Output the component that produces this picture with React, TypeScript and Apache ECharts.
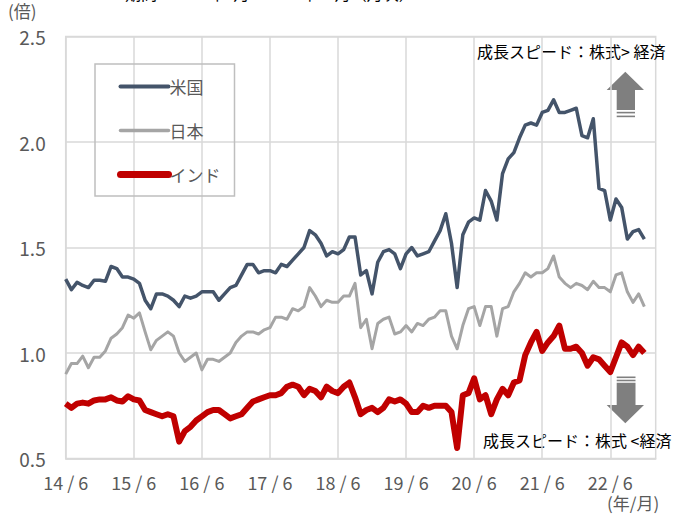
import React, { useEffect, useRef } from "react";
import * as echarts from "echarts";

// Month labels: 2014/6 .. 2023/2 (axis extends two months past the data)
const startYear = 14;
const startMonth = 6;
const monthCount = 105;
const months: string[] = [];
for (let i = 0; i < monthCount; i++) {
  const m = startMonth - 1 + i;
  months.push(`${startYear + Math.floor(m / 12)}/${(m % 12) + 1}`);
}

const seriesNames = ["米国", "日本", "インド"];

const usValues = [
  1.35, 1.30, 1.335, 1.32, 1.31, 1.345, 1.345, 1.34, 1.41, 1.40, 1.36, 1.36, 1.35, 1.33, 1.25, 1.21, 1.28,
  1.28, 1.27, 1.25, 1.22, 1.27, 1.26, 1.27, 1.29, 1.29, 1.29, 1.25, 1.28, 1.31, 1.32, 1.37, 1.42, 1.42, 1.38,
  1.39, 1.39, 1.38, 1.42, 1.41, 1.44, 1.47,
  1.50, 1.58, 1.56, 1.52, 1.46, 1.48, 1.47, 1.49, 1.55, 1.55, 1.37, 1.39, 1.28, 1.43, 1.48, 1.49, 1.47, 1.40,
  1.47, 1.50, 1.46, 1.47, 1.48, 1.53, 1.58, 1.66, 1.52, 1.31,
  1.56, 1.62, 1.64, 1.63, 1.77, 1.72, 1.63, 1.85, 1.92, 1.95, 2.02, 2.08, 2.09, 2.08, 2.14, 2.15, 2.20, 2.14,
  2.14, 2.15, 2.16, 2.03, 2.02, 2.11, 1.78, 1.77, 1.63, 1.73, 1.69, 1.54, 1.575, 1.585, 1.54,
];

const japanValues = [
  0.90, 0.95, 0.95, 0.985, 0.93, 0.98, 0.98, 1.01, 1.07, 1.09, 1.12, 1.18, 1.165, 1.19, 1.10, 1.015, 1.06,
  1.08, 1.10, 1.08, 1.00, 0.96, 0.98, 1.00, 0.92, 0.97, 0.97, 0.96, 0.98, 1.00, 1.05, 1.08, 1.10, 1.10, 1.09,
  1.11, 1.12, 1.17, 1.17, 1.16, 1.21, 1.20, 1.22, 1.31,
  1.27, 1.22, 1.25, 1.24, 1.24, 1.27, 1.27, 1.33, 1.12, 1.16, 1.02, 1.14, 1.16, 1.17, 1.09, 1.10, 1.13, 1.10,
  1.14, 1.13, 1.16, 1.17, 1.20, 1.20, 1.08, 1.02,
  1.13, 1.21, 1.22, 1.13, 1.22, 1.22, 1.08, 1.21, 1.22, 1.29, 1.33, 1.38, 1.36, 1.38, 1.38, 1.40, 1.46, 1.36,
  1.33, 1.31, 1.33, 1.32, 1.30, 1.34, 1.31, 1.31, 1.29, 1.37, 1.38, 1.29, 1.24, 1.28, 1.22,
];

const indiaValues = [
  0.76, 0.74, 0.76, 0.765, 0.76, 0.775, 0.78, 0.78, 0.79, 0.775, 0.77, 0.795, 0.78, 0.775, 0.73, 0.72, 0.71,
  0.70, 0.71, 0.70, 0.58, 0.63, 0.65, 0.68, 0.70, 0.72, 0.73,
  0.73, 0.71, 0.69, 0.70, 0.71, 0.74, 0.77, 0.78, 0.79, 0.80,
  0.80, 0.81, 0.84, 0.85, 0.84, 0.80, 0.83, 0.82, 0.79, 0.84,
  0.82, 0.81, 0.84, 0.86, 0.79, 0.71, 0.73, 0.74, 0.72, 0.74,
  0.78, 0.77, 0.78, 0.76, 0.72, 0.72, 0.75, 0.74, 0.75, 0.75,
  0.75, 0.72, 0.55, 0.80, 0.81, 0.88, 0.78, 0.80, 0.71, 0.78,
  0.83, 0.80, 0.86, 0.87, 0.99, 1.05,
  1.10, 1.01, 1.05, 1.08, 1.13, 1.02, 1.02, 1.03, 1.00, 0.94, 0.98, 0.97, 0.94, 0.91, 0.98, 1.05, 1.03, 0.99,
  1.03, 1.00,
];

const yMin = 0.5;
const yMax = 2.5;
const yStep = 0.5;

const FONT = "'Noto Sans CJK JP', sans-serif";
const GRID = "#D9D9D9";
const LABEL = "#595959";
const COLORS = ["#44546A", "#A5A5A5", "#C00000"];
const LEGEND_WIDTHS = [4, 3.5, 7];

export default function App() {
  const ref = useRef<HTMLDivElement>(null);

  useEffect(() => {
    if (!ref.current) return;
    const chart = echarts.init(ref.current, null, { renderer: "svg" });
    const showTick = (i: number) => i % 12 === 0;
    chart.setOption({
      animation: false,
      textStyle: { fontFamily: FONT },
      grid: {
        left: 65.7,
        right: 29.3,
        top: 36.5,
        bottom: 56.5,
        show: true,
        borderColor: GRID,
        borderWidth: 1.5,
      },
      legend: {
        orient: "vertical",
        left: 95,
        top: 64,
        padding: [14, 14, 13, 22],
        itemWidth: 48,
        itemHeight: 14,
        itemGap: 27,
        borderColor: "#BFBFBF",
        borderWidth: 1.5,
        itemStyle: { opacity: 0 },
        textStyle: { fontSize: 17, color: LABEL, fontFamily: FONT, padding: [0, 0, 0, -4] },
        data: seriesNames.map((name, i) => ({
          name,
          lineStyle: { width: LEGEND_WIDTHS[i], color: COLORS[i], cap: "round" },
        })),
      },
      xAxis: {
        type: "category",
        boundaryGap: false,
        data: months,
        axisTick: { show: false },
        axisLine: { lineStyle: { color: GRID, width: 1.5 } },
        axisLabel: {
          interval: (i: number) => showTick(i),
          color: LABEL,
          fontSize: 18,
          margin: 14,
          fontFamily: "'Liberation Sans Narrow', 'Noto Sans CJK JP', sans-serif",
          formatter: (v: string) => v.replace("/", " / "),
        },
        splitLine: {
          show: true,
          interval: (i: number) => showTick(i),
          lineStyle: { color: GRID, width: 1.5 },
        },
      },
      yAxis: {
        type: "value",
        min: yMin,
        max: yMax,
        interval: yStep,
        axisLine: { show: false },
        axisTick: { show: false },
        axisLabel: {
          color: LABEL,
          fontSize: 19,
          margin: 20,
          fontFamily: "'Liberation Sans Narrow', 'Noto Sans CJK JP', sans-serif",
          formatter: (v: number) => v.toFixed(1),
        },
        splitLine: { lineStyle: { color: GRID, width: 1.5 } },
      },
      series: [
        {
          name: seriesNames[0],
          type: "line",
          data: usValues,
          showSymbol: false,
          symbol: "none",
          lineStyle: { color: COLORS[0], width: 3.5, join: "round" },
          itemStyle: { color: COLORS[0] },
          z: 3,
        },
        {
          name: seriesNames[1],
          type: "line",
          data: japanValues,
          showSymbol: false,
          symbol: "none",
          lineStyle: { color: COLORS[1], width: 3, join: "round" },
          itemStyle: { color: COLORS[1] },
          z: 2,
        },
        {
          name: seriesNames[2],
          type: "line",
          data: indiaValues,
          showSymbol: false,
          symbol: "none",
          lineStyle: { color: COLORS[2], width: 6, join: "round" },
          itemStyle: { color: COLORS[2] },
          z: 4,
        },
      ],
      graphic: [
        {
          type: "text",
          left: 125,
          top: -15,
          style: { text: "期間：2014年6月～2022年12月（月次）", fontSize: 16, fill: "#000", fontFamily: FONT },
        },
        {
          type: "text",
          left: 8,
          top: 2,
          style: { text: "(倍)", fontSize: 17, fill: LABEL, fontFamily: FONT },
        },
        {
          type: "text",
          left: 607,
          top: 494,
          style: { text: "(年/月)", fontSize: 17, fill: LABEL, fontFamily: FONT },
        },
        {
          type: "text",
          left: 477,
          top: 43,
          style: { text: "成長スピード：株式> 経済", fontSize: 16, fill: "#000", fontFamily: FONT },
        },
        {
          type: "text",
          left: 483,
          top: 432,
          style: { text: "成長スピード：株式 <経済", fontSize: 16, fill: "#000", fontFamily: FONT },
        },
        {
          type: "polygon",
          shape: {
            points: [
              [625.3, 71.7], [644, 90], [635, 90], [635, 110], [616.7, 110], [616.7, 90], [606.7, 90],
            ],
          },
          style: { fill: "#7F7F7F" },
        },
        { type: "rect", shape: { x: 616.7, y: 111.8, width: 18.3, height: 1.6 }, style: { fill: "#7F7F7F" } },
        { type: "rect", shape: { x: 616.7, y: 115.6, width: 18.3, height: 1.6 }, style: { fill: "#7F7F7F" } },
        {
          type: "polygon",
          shape: {
            points: [
              [616.7, 382.7], [635.5, 382.7], [635.5, 405], [644, 405], [625.3, 423.3], [606.7, 405], [616.7, 405],
            ],
          },
          style: { fill: "#7F7F7F" },
        },
        { type: "rect", shape: { x: 616.7, y: 376.5, width: 18.8, height: 1.6 }, style: { fill: "#7F7F7F" } },
        { type: "rect", shape: { x: 616.7, y: 379.7, width: 18.8, height: 1.6 }, style: { fill: "#7F7F7F" } },
      ],
    });
    return () => chart.dispose();
  }, []);

  return <div ref={ref} style={{ width: 685, height: 515, position: "absolute", left: 0, top: 0 }} />;
}
